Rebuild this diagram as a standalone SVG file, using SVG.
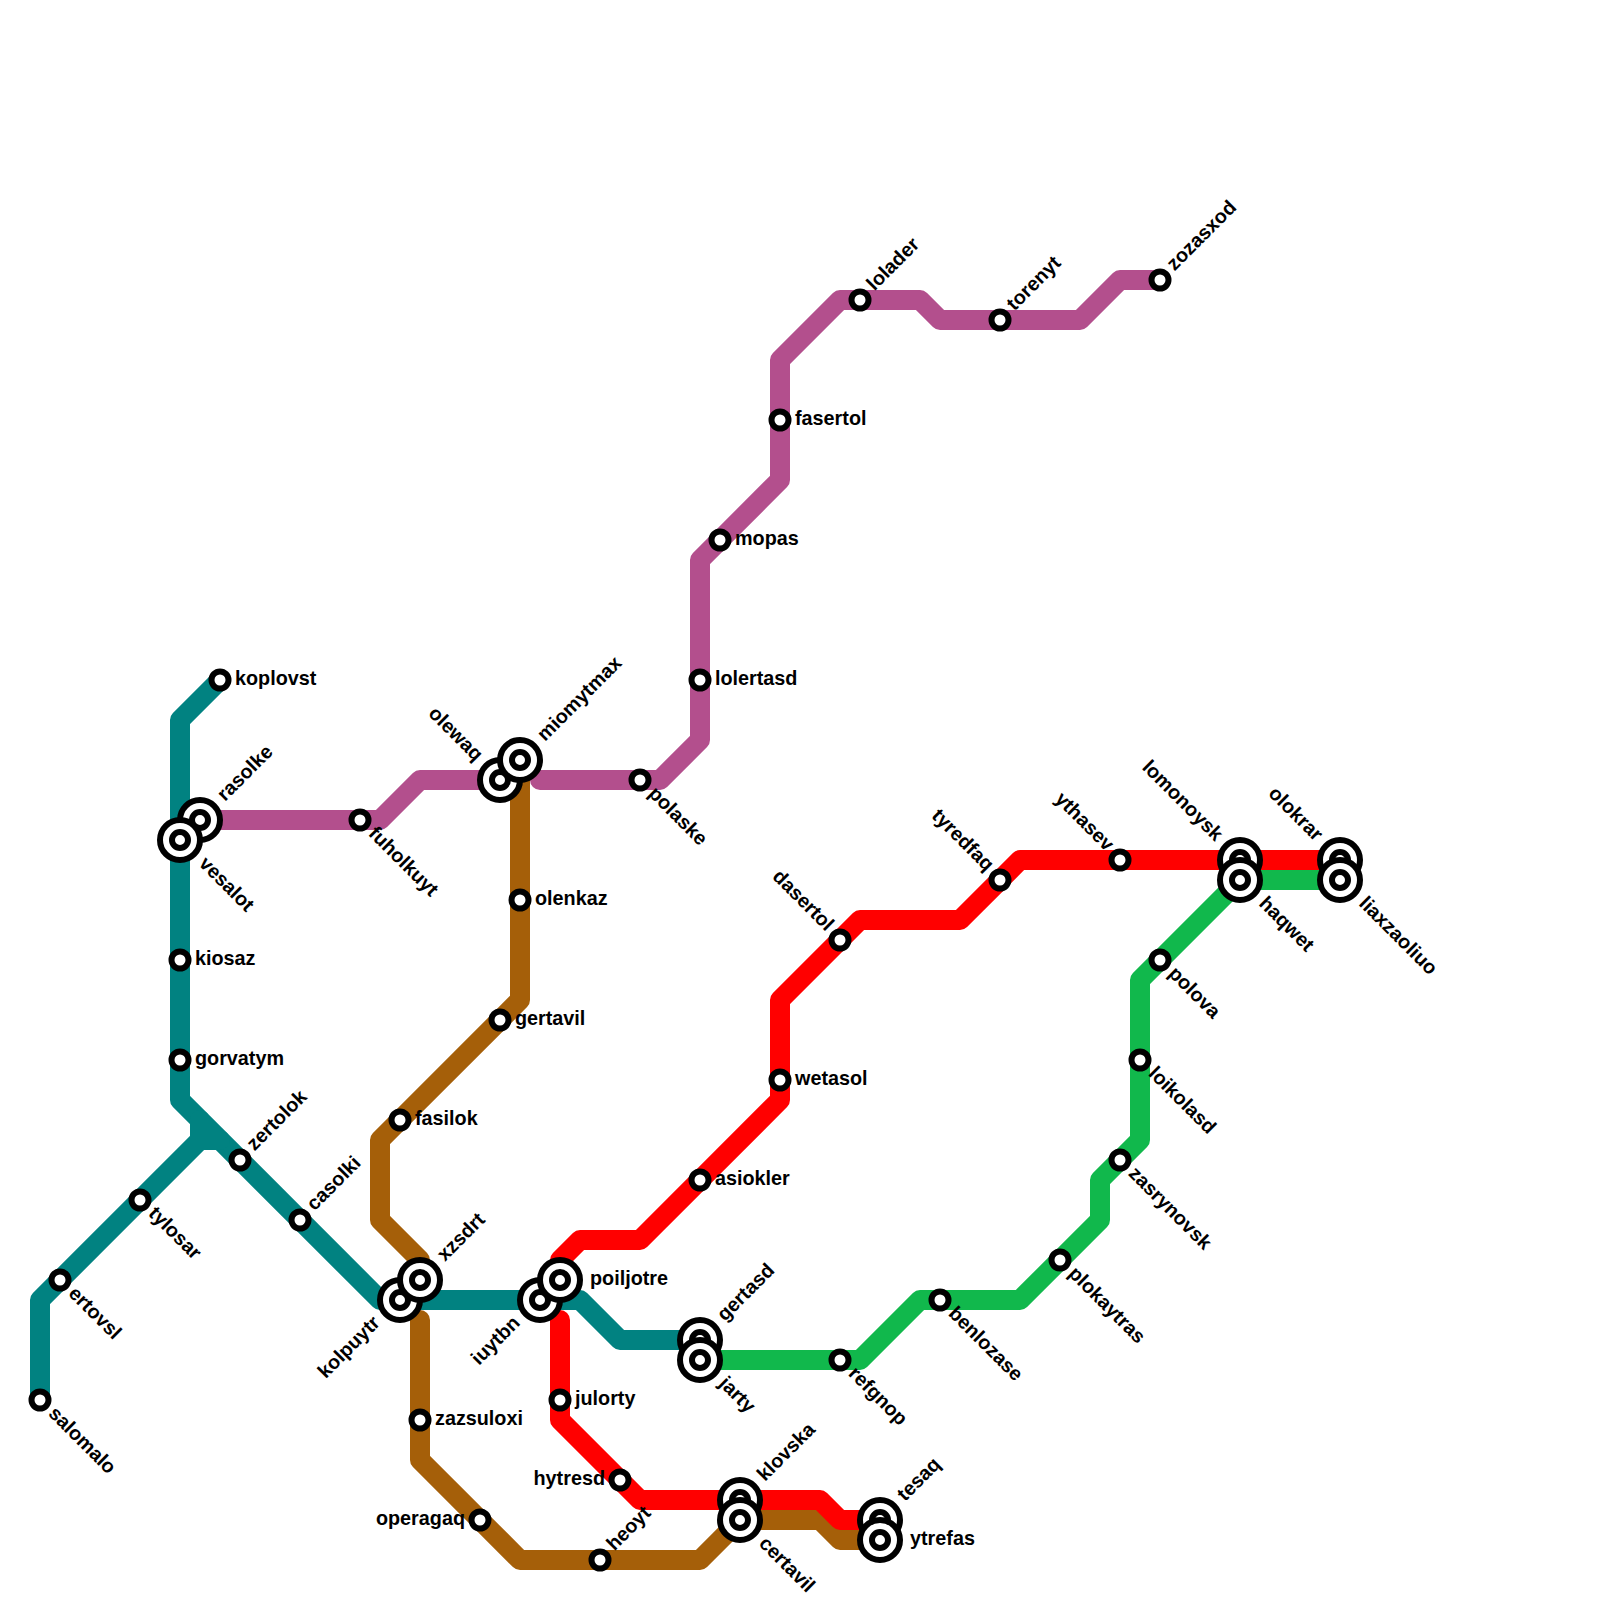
<svg xmlns="http://www.w3.org/2000/svg" width="1600" height="1600" viewBox="0 0 1600 1600">
<style>
.l{fill:none;stroke-width:20;stroke-linejoin:round;stroke-linecap:round}
.teal{stroke:#018281}.pink{stroke:#b34f8d}.brown{stroke:#a55f09}.red{stroke:#ff0000}.green{stroke:#11b84c}
text{font-family:"Liberation Sans",Arial,sans-serif;font-size:19.8px;font-weight:bold;fill:#000}
.e{text-anchor:end}
.o{fill:#fff;stroke:#000;stroke-width:6}
</style>
<defs>
<g id="s"><circle class="o" r="8.5"/></g>
<g id="b"><circle class="o" r="20"/><circle class="o" r="8"/></g>
</defs>
<rect width="1600" height="1600" fill="#fff"/>
<g id="connectors">
<path class="l teal" d="M220,680L180,720V1100L380,1300H580L620,1340H700"/>
<path class="l teal" d="M40,1400V1300L200,1140H220M200,1140V1120"/>
<path class="l pink" d="M200,820H380L420,780H500"/>
<path class="l pink" d="M540,780H660L700,740V560L780,480V360L840,300H920L940,320H1080L1120,280H1160"/>
<path class="l brown" d="M520,760V1000L380,1140V1220L420,1260"/>
<path class="l brown" d="M420,1320V1460L520,1560H700L740,1520H820L840,1540H880"/>
<path class="l red" d="M560,1260L580,1240H640L780,1100V1000L860,920H960L1020,860H1340"/>
<path class="l red" d="M560,1320V1420L640,1500H820L840,1520H880"/>
<path class="l green" d="M700,1360H860L920,1300H1020L1100,1220V1180L1140,1140V980L1240,880H1340"/>
</g>
<g id="koplovst"><use href="#s" x="220" y="680"/><text x="235" y="685">koplovst</text></g>
<g id="rasolke"><use href="#b" x="200" y="820"/><text transform="translate(225,802) rotate(-45)">rasolke</text></g>
<g id="vesalot"><use href="#b" x="180" y="840"/><text transform="translate(198,864.500) rotate(45)">vesalot</text></g>
<g id="fuholkuyt"><use href="#s" x="360" y="820"/><text transform="translate(367.500,834.500) rotate(45)">fuholkuyt</text></g>
<g id="kiosaz"><use href="#s" x="180" y="960"/><text x="195" y="965">kiosaz</text></g>
<g id="gorvatym"><use href="#s" x="180" y="1060"/><text x="195" y="1065">gorvatym</text></g>
<g id="zertolok"><use href="#s" x="240" y="1160"/><text transform="translate(254.500,1151.500) rotate(-45)">zertolok</text></g>
<g id="casolki"><use href="#s" x="300" y="1220"/><text transform="translate(314.500,1211.500) rotate(-45)">casolki</text></g>
<g id="tylosar"><use href="#s" x="140" y="1200"/><text transform="translate(147.500,1214.500) rotate(45)">tylosar</text></g>
<g id="ertovsl"><use href="#s" x="60" y="1280"/><text transform="translate(67.500,1294.500) rotate(45)">ertovsl</text></g>
<g id="salomalo"><use href="#s" x="40" y="1400"/><text transform="translate(47.500,1414.500) rotate(45)">salomalo</text></g>
<g id="olewaq"><use href="#b" x="500" y="780"/><text class="e" transform="translate(475,762) rotate(45)">olewaq</text></g>
<g id="miomytmax"><use href="#b" x="520" y="760"/><text transform="translate(545,742) rotate(-45)">miomytmax</text></g>
<g id="polaske"><use href="#s" x="640" y="780"/><text transform="translate(647.500,794.500) rotate(45)">polaske</text></g>
<g id="lolertasd"><use href="#s" x="700" y="680"/><text x="715" y="685">lolertasd</text></g>
<g id="mopas"><use href="#s" x="720" y="540"/><text x="735" y="545">mopas</text></g>
<g id="fasertol"><use href="#s" x="780" y="420"/><text x="795" y="425">fasertol</text></g>
<g id="lolader"><use href="#s" x="860" y="300"/><text transform="translate(874.500,291.500) rotate(-45)">lolader</text></g>
<g id="torenyt"><use href="#s" x="1000" y="320"/><text transform="translate(1014.500,311.500) rotate(-45)">torenyt</text></g>
<g id="zozasxod"><use href="#s" x="1160" y="280"/><text transform="translate(1174.500,271.500) rotate(-45)">zozasxod</text></g>
<g id="olenkaz"><use href="#s" x="520" y="900"/><text x="535" y="905">olenkaz</text></g>
<g id="gertavil"><use href="#s" x="500" y="1020"/><text x="515" y="1025">gertavil</text></g>
<g id="fasilok"><use href="#s" x="400" y="1120"/><text x="415" y="1125">fasilok</text></g>
<g id="kolpuytr"><use href="#b" x="400" y="1300"/><text class="e" transform="translate(381,1324) rotate(-45)">kolpuytr</text></g>
<g id="xzsdrt"><use href="#b" x="420" y="1280"/><text transform="translate(445,1262) rotate(-45)">xzsdrt</text></g>
<g id="iuytbn"><use href="#b" x="540" y="1300"/><text class="e" transform="translate(521,1324) rotate(-45)">iuytbn</text></g>
<g id="poiljotre"><use href="#b" x="560" y="1280"/><text x="590" y="1285">poiljotre</text></g>
<g id="zazsuloxi"><use href="#s" x="420" y="1420"/><text x="435" y="1425">zazsuloxi</text></g>
<g id="operagaq"><use href="#s" x="480" y="1520"/><text class="e" x="465" y="1525">operagaq</text></g>
<g id="heoyt"><use href="#s" x="600" y="1560"/><text transform="translate(614.500,1551.500) rotate(-45)">heoyt</text></g>
<g id="julorty"><use href="#s" x="560" y="1400"/><text x="575" y="1405">julorty</text></g>
<g id="hytresd"><use href="#s" x="620" y="1480"/><text class="e" x="605" y="1485">hytresd</text></g>
<g id="gertasd"><use href="#b" x="700" y="1340"/><text transform="translate(725,1322) rotate(-45)">gertasd</text></g>
<g id="jarty"><use href="#b" x="700" y="1360"/><text transform="translate(718,1384.500) rotate(45)">jarty</text></g>
<g id="klovska"><use href="#b" x="740" y="1500"/><text transform="translate(765,1482) rotate(-45)">klovska</text></g>
<g id="certavil"><use href="#b" x="740" y="1520"/><text transform="translate(758,1544.500) rotate(45)">certavil</text></g>
<g id="tesaq"><use href="#b" x="880" y="1520"/><text transform="translate(905,1502) rotate(-45)">tesaq</text></g>
<g id="ytrefas"><use href="#b" x="880" y="1540"/><text x="910" y="1545">ytrefas</text></g>
<g id="refgnop"><use href="#s" x="840" y="1360"/><text transform="translate(847.500,1374.500) rotate(45)">refgnop</text></g>
<g id="benlozase"><use href="#s" x="940" y="1300"/><text transform="translate(947.500,1314.500) rotate(45)">benlozase</text></g>
<g id="plokaytras"><use href="#s" x="1060" y="1260"/><text transform="translate(1067.500,1274.500) rotate(45)">plokaytras</text></g>
<g id="zasrynovsk"><use href="#s" x="1120" y="1160"/><text transform="translate(1127.500,1174.500) rotate(45)">zasrynovsk</text></g>
<g id="loikolasd"><use href="#s" x="1140" y="1060"/><text transform="translate(1147.500,1074.500) rotate(45)">loikolasd</text></g>
<g id="polova"><use href="#s" x="1160" y="960"/><text transform="translate(1167.500,974.500) rotate(45)">polova</text></g>
<g id="lomonoysk"><use href="#b" x="1240" y="860"/><text class="e" transform="translate(1215,842) rotate(45)">lomonoysk</text></g>
<g id="haqwet"><use href="#b" x="1240" y="880"/><text transform="translate(1258,904.500) rotate(45)">haqwet</text></g>
<g id="olokrar"><use href="#b" x="1340" y="860"/><text class="e" transform="translate(1315,842) rotate(45)">olokrar</text></g>
<g id="liaxzaoliuo"><use href="#b" x="1340" y="880"/><text transform="translate(1358,904.500) rotate(45)">liaxzaoliuo</text></g>
<g id="ythasev"><use href="#s" x="1120" y="860"/><text class="e" transform="translate(1106,852) rotate(45)">ythasev</text></g>
<g id="tyredfaq"><use href="#s" x="1000" y="880"/><text class="e" transform="translate(986,872) rotate(45)">tyredfaq</text></g>
<g id="dasertol"><use href="#s" x="840" y="940"/><text class="e" transform="translate(826,932) rotate(45)">dasertol</text></g>
<g id="asiokler"><use href="#s" x="700" y="1180"/><text x="715" y="1185">asiokler</text></g>
<g id="wetasol"><use href="#s" x="780" y="1080"/><text x="795" y="1085">wetasol</text></g>
</svg>
